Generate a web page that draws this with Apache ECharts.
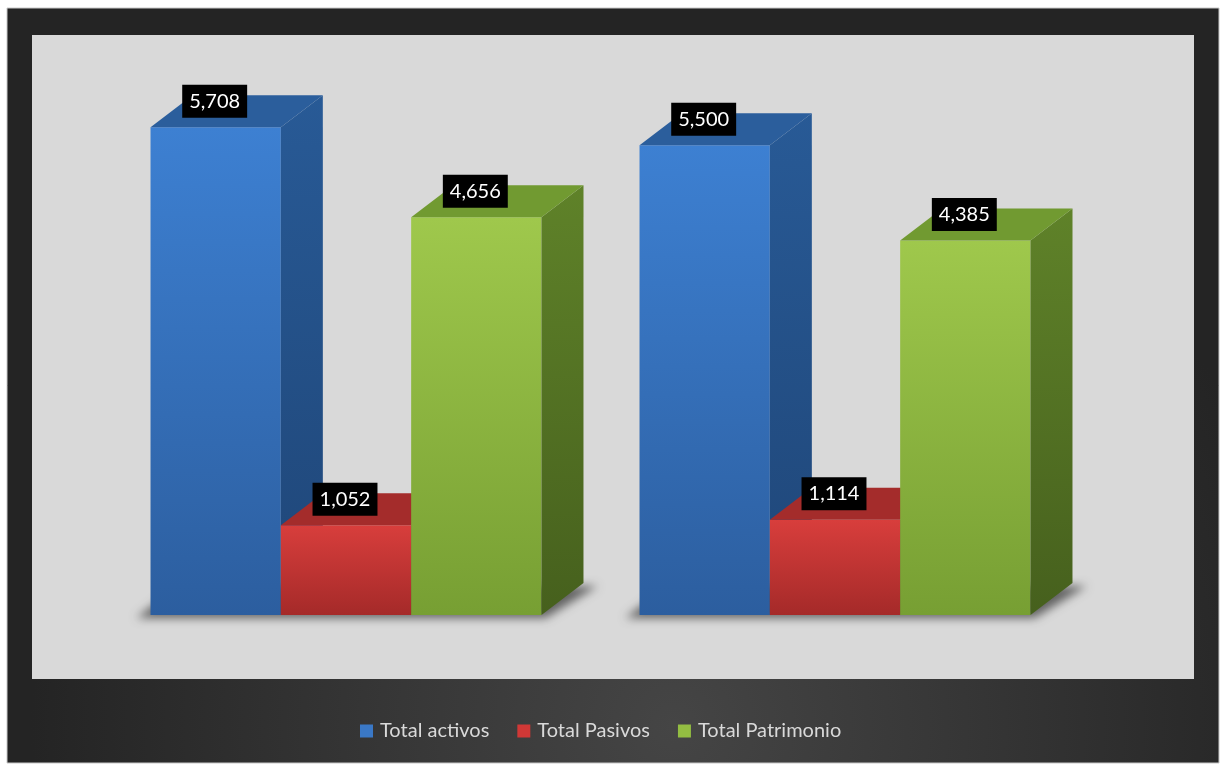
<!DOCTYPE html>
<html>
<head>
<meta charset="utf-8">
<script src="https://cdn.jsdelivr.net/npm/echarts@6/dist/echarts.min.js"></script>
<style>
html,body{margin:0;padding:0;background:#ffffff;}
#chart{width:1223px;height:765px;}
</style>
</head>
<body>
<div id="chart"></div>
<script>
// ---- data ----
var categories = ['Periodo 1', 'Periodo 2'];
var seriesNames = ['Total activos', 'Total Pasivos', 'Total Patrimonio'];
var activos = [5708, 5500];
var pasivos = [1052, 1114];
var patrimonio = [4656, 4385];

var FONT = 'Lato, "Open Sans", sans-serif';
var DX = 42, DY = 32;

var palettes = [
  { front: ['#3d80d2', '#2c5e9f'], side: ['#285a96', '#1f4678'], top: '#2b5e9c', legend: '#3a78c6' },
  { front: ['#d83e3c', '#a52a29'], side: ['#93292a', '#7a1f1f'], top: '#a42c2b', legend: '#d03836' },
  { front: ['#9fc84c', '#779f33'], side: ['#5f8229', '#46601d'], top: '#719a31', legend: '#93bd42' }
];

function lin(c0, c1) {
  return new echarts.graphic.LinearGradient(0, 0, 0, 1, [{ offset: 0, color: c0 }, { offset: 1, color: c1 }]);
}

function makeBarRender(si) {
  return function (params, api) {
    var cat = api.value(0), val = api.value(1);
    var topPt = api.coord([cat, val]);
    var basePt = api.coord([cat, 0]);
    var band = api.size([1, 0])[0];
    var bw = band * 0.2665;
    var cx = topPt[0] + (si - 1) * bw;
    var x0 = cx - bw / 2, x1 = cx + bw / 2;
    var yT = topPt[1], yB = basePt[1];
    var p = palettes[si];
    return {
      type: 'group',
      children: [
        { type: 'rect', shape: { x: x0, y: yT, width: bw, height: yB - yT },
          style: { fill: lin(p.front[0], p.front[1]) } },
        { type: 'polygon', shape: { points: [[x1, yT], [x1 + DX, yT - DY], [x1 + DX, yB - DY], [x1, yB]] },
          style: { fill: lin(p.side[0], p.side[1]) } },
        { type: 'polygon', shape: { points: [[x0, yT], [x0 + DX, yT - DY], [x1 + DX, yT - DY], [x1, yT]] },
          style: { fill: p.top } },
        { type: 'text', x: cx - 1, y: yT - 26, z2: 100,
          style: { text: echarts.format.addCommas(val), fill: '#ffffff', font: '20px ' + FONT,
                   align: 'center', verticalAlign: 'middle',
                   backgroundColor: '#000000', padding: [7, 7, 6, 7] } }
      ]
    };
  };
}

var SHIFT = 3000;
function floorRender(params, api) {
  var cat = api.value(0);
  var basePt = api.coord([cat, 0]);
  var band = api.size([1, 0])[0];
  var bw = band * 0.2665;
  var x0 = basePt[0] - 1.5 * bw, x1 = basePt[0] + 1.5 * bw;
  var yB = basePt[1];
  return {
    type: 'polygon',
    shape: { points: [[x0 - 14 - SHIFT, yB + 3], [x1 + 4 - SHIFT, yB + 3],
                      [x1 + DX + 14 - SHIFT, yB - DY + 3], [x0 + DX - 14 - SHIFT, yB - DY + 3]] },
    style: { fill: '#000', shadowBlur: 10, shadowColor: 'rgba(0,0,0,0.55)', shadowOffsetX: SHIFT }
  };
}

var seriesData = [activos, pasivos, patrimonio];
var series = [{
  type: 'custom', name: 'floor', silent: true,
  data: categories.map(function (c, i) { return [i, 0]; }),
  encode: { x: 0, y: 1 },
  renderItem: floorRender
}];
seriesData.forEach(function (arr, si) {
  series.push({
    type: 'custom',
    name: seriesNames[si],
    itemStyle: { color: palettes[si].legend },
    data: arr.map(function (v, i) { return [i, v]; }),
    encode: { x: 0, y: 1 },
    renderItem: makeBarRender(si)
  });
});

var chart = echarts.init(document.getElementById('chart'), null, { renderer: 'canvas' });
chart.setOption({
  animation: false,
  backgroundColor: '#ffffff',
  graphic: [
    { type: 'rect', z: -10, shape: { x: 7, y: 8, width: 1212, height: 755 },
      style: { fill: new echarts.graphic.RadialGradient(0.55, 0.95, 0.85, [
        { offset: 0, color: '#454545' }, { offset: 1, color: '#242424' }]),
        stroke: '#c8c8c8', lineWidth: 1 } },
    { type: 'rect', z: -9, shape: { x: 32, y: 35, width: 1162, height: 644 },
      style: { fill: '#d9d9d9' } }
  ],
  grid: { left: 101.5, width: 978, top: 17, bottom: 150 },
  xAxis: { type: 'category', data: categories, show: false },
  yAxis: { type: 'value', min: 0, max: 7000, show: false, splitLine: { show: false } },
  legend: {
    data: seriesNames,
    left: 355, top: 716,
    itemWidth: 13, itemHeight: 13, itemGap: 28,
    icon: 'rect',
    textStyle: { color: '#d9d9d9', fontSize: 20, fontFamily: FONT, padding: [0, 0, 0, 2] }
  },
  series: series
});
</script>
</body>
</html>
